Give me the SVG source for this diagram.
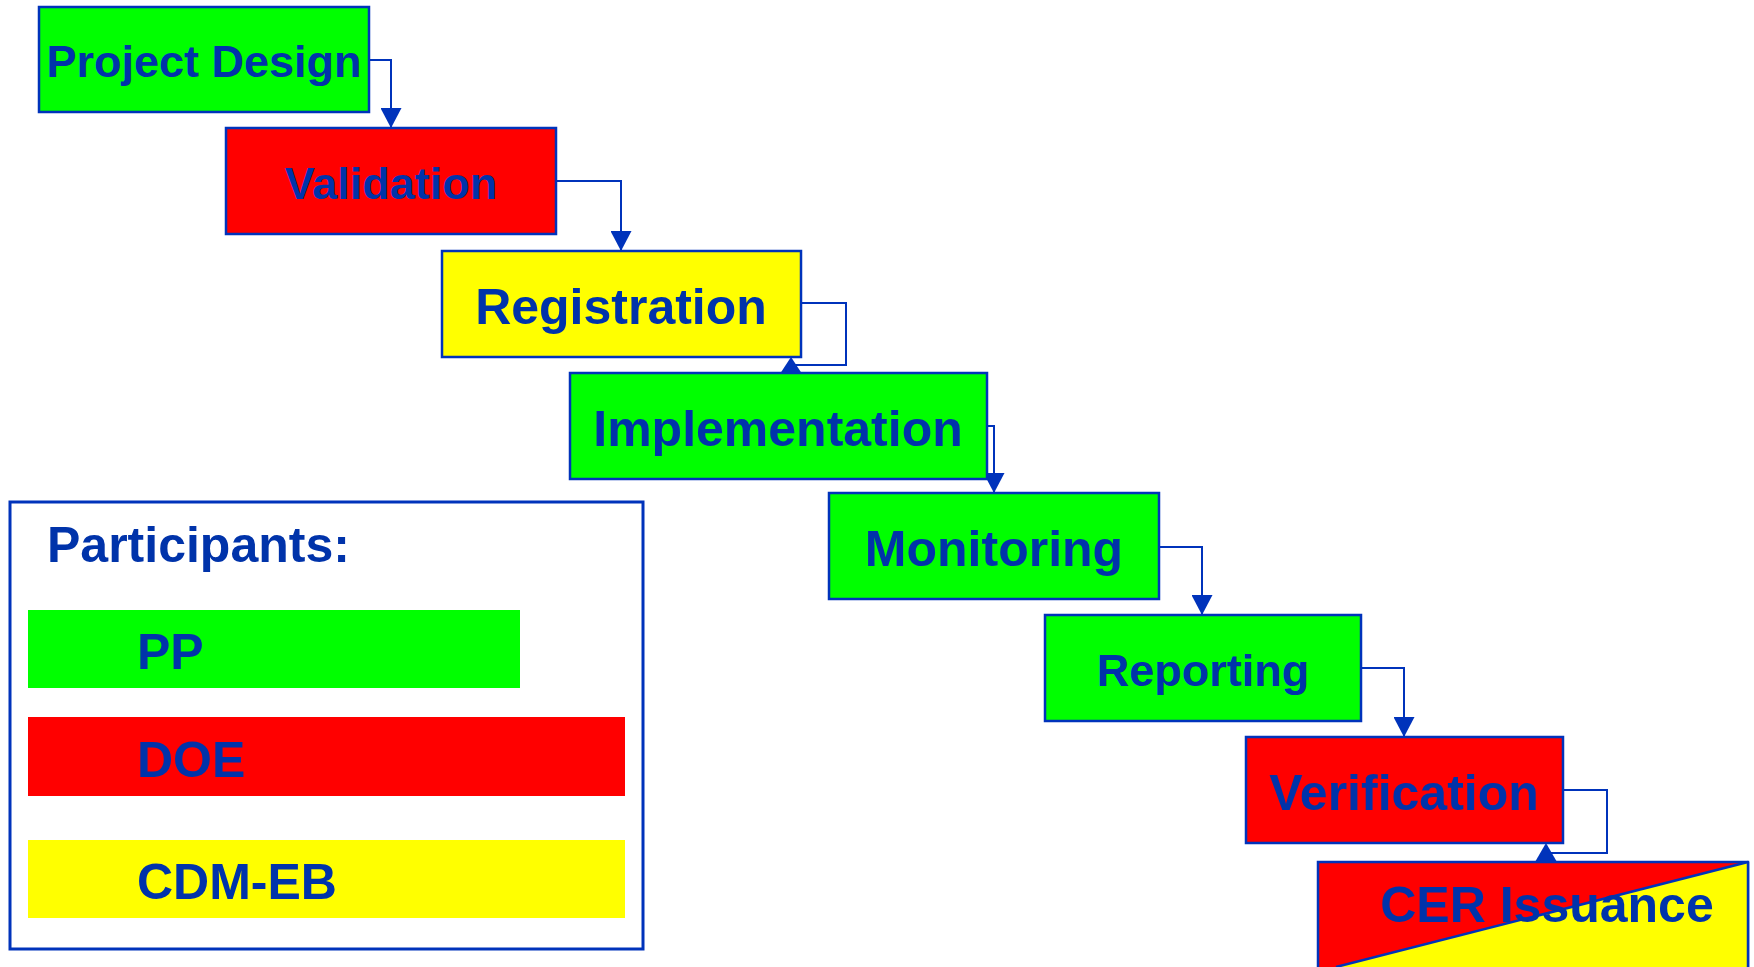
<svg xmlns="http://www.w3.org/2000/svg" width="1754" height="967" viewBox="0 0 1754 967">
<style>
.box{stroke:#0033bb;stroke-width:2.5}
.g{fill:#00ff00}.r{fill:#ff0000}.y{fill:#ffff00}
.t{font-family:"Liberation Sans",Arial,sans-serif;font-weight:bold;fill:#0033aa;text-anchor:middle}
.lt{font-family:"Liberation Sans",Arial,sans-serif;font-weight:bold;fill:#0033aa}
.c{fill:none;stroke:#0033bb;stroke-width:2}
.ah{fill:#0033bb}
</style>
<defs>
<marker id="arr" viewBox="0 0 20 21" refX="20" refY="10.5" markerWidth="20" markerHeight="21" markerUnits="userSpaceOnUse" orient="auto">
<path d="M0 0 L20 10.5 L0 21 Z" class="ah"/>
</marker>
</defs>
<rect width="1754" height="967" fill="#ffffff"/>
<g id="legend">
<rect x="10" y="502" width="633" height="447" fill="#ffffff" stroke="#0033bb" stroke-width="3"/>
<text class="lt" x="47" y="562" font-size="50">Participants:</text>
<rect x="28" y="610" width="492" height="78" class="g"/>
<text class="lt" x="137" y="669" font-size="50">PP</text>
<rect x="28" y="717" width="597" height="79" class="r"/>
<text class="lt" x="137" y="777" font-size="50">DOE</text>
<rect x="28" y="840" width="597" height="78" class="y"/>
<text class="lt" x="137" y="899" font-size="50">CDM-EB</text>
</g>
<g id="connectors">
<path class="c" d="M369 60 H391 V128" marker-end="url(#arr)"/>
<path class="c" d="M556 181 H621 V251" marker-end="url(#arr)"/>
<path class="c" d="M801 303 H846 V365 H791"/>
<path class="c" d="M987 426 H994 V493" marker-end="url(#arr)"/>
<path class="c" d="M1159 547 H1202 V615" marker-end="url(#arr)"/>
<path class="c" d="M1361 668 H1404 V737" marker-end="url(#arr)"/>
<path class="c" d="M1563 790 H1607 V853 H1546"/>
</g>
<g id="project-design">
<rect x="39" y="7" width="330" height="105" class="box g"/>
<text class="t" x="204" y="77" font-size="45">Project Design</text>
</g>
<g id="validation">
<rect x="226" y="128" width="330" height="106" class="box r"/>
<text class="t" x="391" y="199" font-size="45">Validation</text>
</g>
<g id="registration">
<rect x="442" y="251" width="359" height="106" class="box y"/>
<text class="t" x="621" y="324" font-size="50">Registration</text>
</g>
<g id="implementation">
<rect x="570" y="373" width="417" height="106" class="box g"/>
<text class="t" x="778" y="446" font-size="50">Implementation</text>
</g>
<g id="monitoring">
<rect x="829" y="493" width="330" height="106" class="box g"/>
<text class="t" x="994" y="566" font-size="50">Monitoring</text>
</g>
<g id="reporting">
<rect x="1045" y="615" width="316" height="106" class="box g"/>
<text class="t" x="1203" y="686" font-size="45">Reporting</text>
</g>
<g id="verification">
<rect x="1246" y="737" width="317" height="106" class="box r"/>
<text class="t" x="1404" y="810" font-size="50">Verification</text>
</g>
<g id="cer-issuance">
<rect x="1318" y="862" width="430" height="130" class="box r"/>
<polygon points="1748,862 1748,992 1336,967" class="y"/>
<line x1="1748" y1="862" x2="1336" y2="967" stroke="#0033bb" stroke-width="2.5"/>
<line x1="1748" y1="862" x2="1748" y2="967" stroke="#0033bb" stroke-width="2.5"/>
<text class="t" x="1547" y="922" font-size="50">CER Issuance</text>
</g>
<polygon class="ah" points="791,357 780.5,373 801.5,373"/>
<polygon class="ah" points="1546,843 1535,862 1557,862"/>
</svg>
